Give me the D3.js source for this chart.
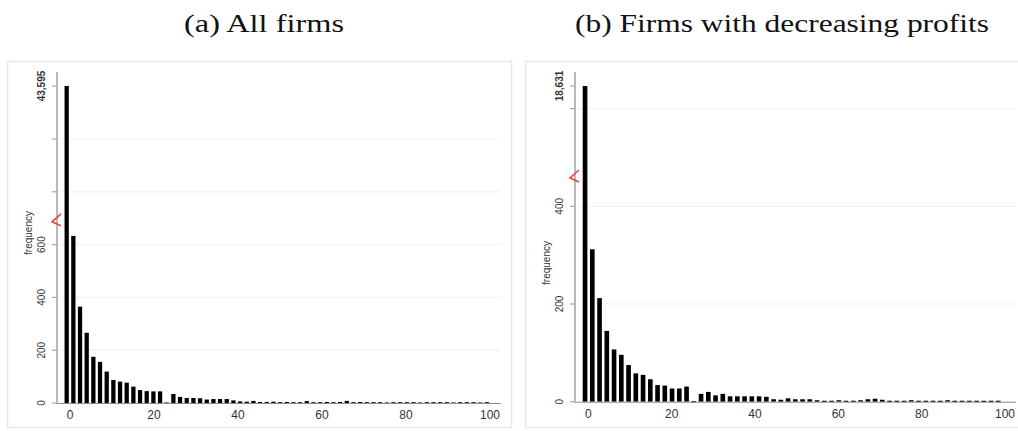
<!DOCTYPE html>
<html>
<head>
<meta charset="utf-8">
<script src="https://cdn.jsdelivr.net/npm/d3@7"></script>
<style>
  html, body { margin: 0; padding: 0; background: #fff; }
  svg { display: block; }
</style>
</head>
<body>
<svg id="chart" width="1018" height="431"></svg>
<script>
// panel titles
const titleA = "(a) All firms";
const titleB = "(b) Firms with decreasing profits";

// histogram bins (x = bin centre, percent)
const binStartA = -0.79, binWidthA = 1.588;
const binStartB = -0.78, binWidthB = 1.74;

// frequencies
const countsA = [43595, 633, 365, 266, 175, 156, 119, 87, 81, 77, 62, 49, 45, 44, 44, 2,
  34, 23, 19, 19, 18, 13, 15, 15, 15, 10, 6, 5, 8, 4, 4, 5, 3, 4, 3, 3, 7, 3, 3, 4, 3, 4, 8,
  3, 4, 3, 3, 3, 2, 3, 3, 3, 3, 2, 3, 3, 3, 3, 2, 3, 3, 3, 2, 3];
const countsB = [18631, 312, 212, 145, 107, 96, 75, 58, 55, 46, 34, 33, 27, 27, 31, 1,
  16, 20, 13, 16, 11, 11, 11, 11, 11, 10, 5, 4, 7, 5, 5, 5, 3, 2, 2, 3, 2, 2, 3, 5, 6, 4,
  2, 2, 2, 3, 2, 2, 2, 2, 3, 2, 2, 2, 2, 2, 2, 2];

// axis ticks
const xTicks = [0, 20, 40, 60, 80, 100];
const yTicksA = [0, 200, 400, 600];
const yGridA = [200, 400, 600, 800, 1000];
const yTicksB = [0, 200, 400];
const yGridB = [200, 400, 600];

const svg = d3.select("#chart");
const sans = "'Liberation Sans', Arial, sans-serif";

function drawPanel(p) {
  const g = svg.append("g");

  // panel frame
  g.append("rect")
    .attr("x", p.frame[0]).attr("y", p.frame[1])
    .attr("width", p.frame[2]).attr("height", p.frame[3])
    .attr("fill", "none").attr("stroke", "#e4eaec").attr("stroke-width", 1.5);

  // title
  svg.append("text")
    .attr("x", p.titleX).attr("y", 32)
    .attr("text-anchor", "middle")
    .attr("font-family", "'Liberation Serif', 'DejaVu Serif', serif")
    .attr("font-size", 25)
    .attr("textLength", p.titleLen).attr("lengthAdjust", "spacingAndGlyphs")
    .attr("fill", "#111")
    .text(p.title);

  const x = d3.scaleLinear().domain([0, 100]).range([p.x0, p.x1]);
  // broken axis: everything above the break is squeezed into the top segment
  const y = d3.scaleLinear()
    .domain([0, p.breakVal, p.top])
    .range([p.y0, p.y0 - p.breakVal * p.pxPerUnit, p.yTop]);
  const yLin = d3.scaleLinear().domain([0, 200]).range([p.y0, p.y0 - 200 * p.pxPerUnit]);

  // grid
  g.selectAll(".grid").data(p.grid).join("line")
    .attr("x1", p.axisX + 2).attr("x2", p.gridEnd)
    .attr("y1", d => yLin(d)).attr("y2", d => yLin(d))
    .attr("stroke", "#eef2f3").attr("stroke-width", 1.2);

  // bars
  const bw = (x(p.binWidth) - x(0));
  g.selectAll(".bar").data(p.counts).join("rect")
    .attr("x", (d, i) => x(p.binStart + i * p.binWidth) - bw * 0.32)
    .attr("width", bw * 0.64)
    .attr("y", d => y(d))
    .attr("height", d => Math.max(1.2, p.y0 - y(d)))
    .attr("fill", "#000");

  // x baseline
  g.append("line")
    .attr("x1", p.axisX).attr("x2", p.gridEnd)
    .attr("y1", p.y0 + 0.5).attr("y2", p.y0 + 0.5)
    .attr("stroke", "#8c8c8c").attr("stroke-width", 1);

  // y axis line
  g.append("line")
    .attr("x1", p.axisX).attr("x2", p.axisX)
    .attr("y1", 72).attr("y2", p.y0 + 1)
    .attr("stroke", "#a8a8a8").attr("stroke-width", 1.6);

  // y ticks (all grid positions + top)
  const tickYs = [0].concat(p.grid).map(d => yLin(d)).concat([p.yTop]);
  g.selectAll(".ytick").data(tickYs).join("line")
    .attr("x1", p.axisX - 5).attr("x2", p.axisX)
    .attr("y1", d => d).attr("y2", d => d)
    .attr("stroke", "#a8a8a8").attr("stroke-width", 1.2);

  g.selectAll(".ylab").data(p.yTicks).join("text")
    .attr("transform", d => `translate(${p.axisX - 12},${yLin(d)}) rotate(-90)`)
    .attr("text-anchor", "middle")
    .attr("font-family", sans).attr("font-size", 10).attr("fill", "#333")
    .text(d => d3.format(",")(d));

  g.append("text")
    .attr("transform", `translate(${p.axisX - 12},${p.yTop}) rotate(-90)`)
    .attr("text-anchor", "middle")
    .attr("font-family", sans).attr("font-size", 10).attr("font-weight", "bold").attr("fill", "#333")
    .text(d3.format(",")(p.top));

  g.append("text")
    .attr("transform", `translate(${p.axisX - 25},${p.titleY}) rotate(-90)`)
    .attr("text-anchor", "middle")
    .attr("font-family", sans).attr("font-size", 10).attr("fill", "#333")
    .text("frequency");

  // x labels
  g.selectAll(".xlab").data(xTicks).join("text")
    .attr("x", d => x(d)).attr("y", p.y0 + 16)
    .attr("text-anchor", "middle")
    .attr("font-family", sans).attr("font-size", 12).attr("fill", "#333")
    .text(d => d);

  // red break mark
  const by = y(p.breakMark), bx = p.axisX - 1;
  g.append("path")
    .attr("d", `M${bx + 5},${by - 7} L${bx - 4},${by + 1} L${bx + 5},${by + 5}`)
    .attr("fill", "none").attr("stroke", "#e8473d").attr("stroke-width", 1.6);
}

drawPanel({
  title: titleA, titleX: 264, titleLen: 160,
  frame: [7.5, 61.5, 504, 366],
  counts: countsA, binStart: binStartA, binWidth: binWidthA,
  x0: 70, x1: 490, axisX: 57, gridEnd: 501,
  y0: 403, pxPerUnit: 52.8 / 200, breakVal: 700, top: 43595, yTop: 86,
  yTicks: yTicksA, grid: yGridA, breakMark: 690, titleY: 233
});

drawPanel({
  title: titleB, titleX: 782, titleLen: 414,
  frame: [525.5, 61.5, 500, 366],
  counts: countsB, binStart: binStartB, binWidth: binWidthB,
  x0: 588.3, x1: 1005, axisX: 575, gridEnd: 1016,
  y0: 401.7, pxPerUnit: 97.7 / 200, breakVal: 480, top: 18631, yTop: 86,
  yTicks: yTicksB, grid: yGridB, breakMark: 460, titleY: 263
});
</script>
</body>
</html>
